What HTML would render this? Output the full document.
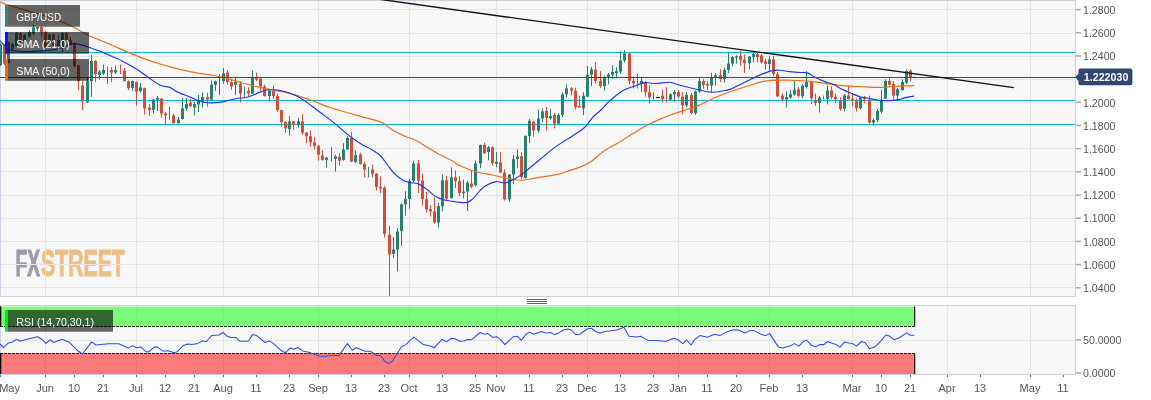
<!DOCTYPE html>
<html lang="en"><head><meta charset="utf-8"><title>GBP/USD chart</title>
<style>html,body{margin:0;padding:0;background:#fff;}body{width:1151px;height:400px;overflow:hidden;position:relative;}svg{display:block;}text{font-family:"Liberation Sans",sans-serif;}.ax{font-size:11px;fill:#555;}.lg{font-size:11px;fill:#fff;}</style></head><body>
<svg width="1151" height="400" viewBox="0 0 1151 400">
<rect width="1151" height="400" fill="#fff"/>
<rect x="0.5" y="0.5" width="1075" height="296" fill="#f7f7f7" stroke="#ccd2e6" stroke-width="1"/>
<rect x="0.5" y="305.5" width="1075" height="69" fill="#f7f7f7" stroke="#ccd2e6" stroke-width="1"/>
</svg>
<svg width="1151" height="400" viewBox="0 0 1151 400" style="position:absolute;left:0;top:0;will-change:transform;">
<g transform="translate(15.5,276.3) scale(0.562,1)" font-weight="bold" font-size="37.8" style="font-family:'Liberation Sans',sans-serif"><text x="0" y="0" fill="#9a9ca9" stroke="#9a9ca9" stroke-width="1.2" textLength="43.5" lengthAdjust="spacingAndGlyphs">FX</text><text x="45.4" y="0" fill="#eebf84" stroke="#eebf84" stroke-width="1.2">STREET</text></g>
</svg>
<svg width="1151" height="400" viewBox="0 0 1151 400" style="position:absolute;left:0;top:0;">
<defs><clipPath id="cm"><rect x="0" y="0" width="1076" height="297"/></clipPath><clipPath id="cr"><rect x="0" y="306" width="1076" height="68"/></clipPath></defs>
<line x1="1" x2="1075" y1="9.5" y2="9.5" stroke="#e5e5e5" stroke-width="1"/>
<line x1="1" x2="1075" y1="33.5" y2="33.5" stroke="#e5e5e5" stroke-width="1"/>
<line x1="1" x2="1075" y1="56.5" y2="56.5" stroke="#e5e5e5" stroke-width="1"/>
<line x1="1" x2="1075" y1="79.5" y2="79.5" stroke="#e5e5e5" stroke-width="1"/>
<line x1="1" x2="1075" y1="102.5" y2="102.5" stroke="#e5e5e5" stroke-width="1"/>
<line x1="1" x2="1075" y1="125.5" y2="125.5" stroke="#e5e5e5" stroke-width="1"/>
<line x1="1" x2="1075" y1="148.5" y2="148.5" stroke="#e5e5e5" stroke-width="1"/>
<line x1="1" x2="1075" y1="171.5" y2="171.5" stroke="#e5e5e5" stroke-width="1"/>
<line x1="1" x2="1075" y1="195.5" y2="195.5" stroke="#e5e5e5" stroke-width="1"/>
<line x1="1" x2="1075" y1="218.5" y2="218.5" stroke="#e5e5e5" stroke-width="1"/>
<line x1="1" x2="1075" y1="241.5" y2="241.5" stroke="#e5e5e5" stroke-width="1"/>
<line x1="1" x2="1075" y1="264.5" y2="264.5" stroke="#e5e5e5" stroke-width="1"/>
<line x1="1" x2="1075" y1="287.5" y2="287.5" stroke="#e5e5e5" stroke-width="1"/>
<line x1="45.5" x2="45.5" y1="1" y2="296" stroke="#e5e5e5" stroke-width="1"/>
<line x1="45.5" x2="45.5" y1="306" y2="374" stroke="#e5e5e5" stroke-width="1"/>
<line x1="136.5" x2="136.5" y1="1" y2="296" stroke="#e5e5e5" stroke-width="1"/>
<line x1="136.5" x2="136.5" y1="306" y2="374" stroke="#e5e5e5" stroke-width="1"/>
<line x1="223.5" x2="223.5" y1="1" y2="296" stroke="#e5e5e5" stroke-width="1"/>
<line x1="223.5" x2="223.5" y1="306" y2="374" stroke="#e5e5e5" stroke-width="1"/>
<line x1="318.5" x2="318.5" y1="1" y2="296" stroke="#e5e5e5" stroke-width="1"/>
<line x1="318.5" x2="318.5" y1="306" y2="374" stroke="#e5e5e5" stroke-width="1"/>
<line x1="409.5" x2="409.5" y1="1" y2="296" stroke="#e5e5e5" stroke-width="1"/>
<line x1="409.5" x2="409.5" y1="306" y2="374" stroke="#e5e5e5" stroke-width="1"/>
<line x1="496.5" x2="496.5" y1="1" y2="296" stroke="#e5e5e5" stroke-width="1"/>
<line x1="496.5" x2="496.5" y1="306" y2="374" stroke="#e5e5e5" stroke-width="1"/>
<line x1="587.5" x2="587.5" y1="1" y2="296" stroke="#e5e5e5" stroke-width="1"/>
<line x1="587.5" x2="587.5" y1="306" y2="374" stroke="#e5e5e5" stroke-width="1"/>
<line x1="678.5" x2="678.5" y1="1" y2="296" stroke="#e5e5e5" stroke-width="1"/>
<line x1="678.5" x2="678.5" y1="306" y2="374" stroke="#e5e5e5" stroke-width="1"/>
<line x1="769.5" x2="769.5" y1="1" y2="296" stroke="#e5e5e5" stroke-width="1"/>
<line x1="769.5" x2="769.5" y1="306" y2="374" stroke="#e5e5e5" stroke-width="1"/>
<line x1="852.5" x2="852.5" y1="1" y2="296" stroke="#e5e5e5" stroke-width="1"/>
<line x1="852.5" x2="852.5" y1="306" y2="374" stroke="#e5e5e5" stroke-width="1"/>
<line x1="947.5" x2="947.5" y1="1" y2="296" stroke="#e5e5e5" stroke-width="1"/>
<line x1="947.5" x2="947.5" y1="306" y2="374" stroke="#e5e5e5" stroke-width="1"/>
<line x1="1030.5" x2="1030.5" y1="1" y2="296" stroke="#e5e5e5" stroke-width="1"/>
<line x1="1030.5" x2="1030.5" y1="306" y2="374" stroke="#e5e5e5" stroke-width="1"/>
<line x1="1" x2="1075" y1="340.5" y2="340.5" stroke="#e5e5e5" stroke-width="1"/>
<g clip-path="url(#cm)">
<line x1="0" x2="1075" y1="52.5" y2="52.5" stroke="#0ab8d2" stroke-width="1"/>
<line x1="0" x2="1075" y1="100.5" y2="100.5" stroke="#0ab8d2" stroke-width="1"/>
<line x1="0" x2="1075" y1="124.5" y2="124.5" stroke="#0ab8d2" stroke-width="1"/>
<line x1="0.50" x2="0.50" y1="43.0" y2="66.0" stroke="#28806e" stroke-width="1"/>
<rect x="-1.00" y="44.4" width="3" height="20.6" fill="#28806e"/>
<line x1="4.50" x2="4.50" y1="44.5" y2="65.0" stroke="#cf4f3b" stroke-width="1"/>
<rect x="3.00" y="45.2" width="3" height="18.4" fill="#cf4f3b"/>
<line x1="8.50" x2="8.50" y1="41.5" y2="63.5" stroke="#28806e" stroke-width="1"/>
<rect x="7.00" y="42.0" width="3" height="21.0" fill="#28806e"/>
<line x1="12.50" x2="12.50" y1="43.0" y2="50.0" stroke="#28806e" stroke-width="1"/>
<rect x="11.00" y="44.0" width="3" height="5.0" fill="#28806e"/>
<line x1="16.50" x2="16.50" y1="32.0" y2="46.8" stroke="#28806e" stroke-width="1"/>
<rect x="15.00" y="32.7" width="3" height="13.5" fill="#28806e"/>
<line x1="20.50" x2="20.50" y1="32.3" y2="43.0" stroke="#cf4f3b" stroke-width="1"/>
<rect x="19.00" y="33.0" width="3" height="9.0" fill="#cf4f3b"/>
<line x1="24.50" x2="24.50" y1="34.0" y2="43.0" stroke="#28806e" stroke-width="1"/>
<rect x="23.00" y="35.0" width="3" height="6.0" fill="#28806e"/>
<line x1="29.50" x2="29.50" y1="30.5" y2="38.0" stroke="#28806e" stroke-width="1"/>
<rect x="28.00" y="32.0" width="3" height="4.6" fill="#28806e"/>
<line x1="33.50" x2="33.50" y1="25.0" y2="35.7" stroke="#28806e" stroke-width="1"/>
<rect x="32.00" y="27.4" width="3" height="6.2" fill="#28806e"/>
<line x1="37.50" x2="37.50" y1="26.5" y2="31.4" stroke="#28806e" stroke-width="1"/>
<rect x="36.00" y="27.0" width="3" height="1.7" fill="#28806e"/>
<line x1="41.50" x2="41.50" y1="26.5" y2="37.5" stroke="#cf4f3b" stroke-width="1"/>
<rect x="40.00" y="27.0" width="3" height="5.2" fill="#cf4f3b"/>
<line x1="45.50" x2="45.50" y1="31.0" y2="47.0" stroke="#cf4f3b" stroke-width="1"/>
<rect x="44.00" y="32.2" width="3" height="14.0" fill="#cf4f3b"/>
<line x1="49.50" x2="49.50" y1="34.0" y2="43.0" stroke="#28806e" stroke-width="1"/>
<rect x="48.00" y="34.4" width="3" height="7.5" fill="#28806e"/>
<line x1="53.50" x2="53.50" y1="33.5" y2="46.0" stroke="#cf4f3b" stroke-width="1"/>
<rect x="52.00" y="34.4" width="3" height="11.0" fill="#cf4f3b"/>
<line x1="58.50" x2="58.50" y1="35.0" y2="47.0" stroke="#28806e" stroke-width="1"/>
<rect x="57.00" y="40.0" width="3" height="6.0" fill="#28806e"/>
<line x1="62.50" x2="62.50" y1="32.0" y2="52.0" stroke="#28806e" stroke-width="1"/>
<rect x="61.00" y="33.0" width="3" height="14.0" fill="#28806e"/>
<line x1="66.50" x2="66.50" y1="32.0" y2="41.0" stroke="#cf4f3b" stroke-width="1"/>
<rect x="65.00" y="33.0" width="3" height="7.0" fill="#cf4f3b"/>
<line x1="70.50" x2="70.50" y1="37.0" y2="45.0" stroke="#cf4f3b" stroke-width="1"/>
<rect x="69.00" y="40.0" width="3" height="4.5" fill="#cf4f3b"/>
<line x1="74.50" x2="74.50" y1="42.3" y2="67.5" stroke="#cf4f3b" stroke-width="1"/>
<rect x="73.00" y="44.0" width="3" height="22.2" fill="#cf4f3b"/>
<line x1="78.50" x2="78.50" y1="65.0" y2="90.0" stroke="#cf4f3b" stroke-width="1"/>
<rect x="77.00" y="65.5" width="3" height="15.7" fill="#cf4f3b"/>
<line x1="82.50" x2="82.50" y1="81.0" y2="110.0" stroke="#cf4f3b" stroke-width="1"/>
<rect x="81.00" y="85.6" width="3" height="15.8" fill="#cf4f3b"/>
<line x1="87.50" x2="87.50" y1="77.7" y2="103.0" stroke="#28806e" stroke-width="1"/>
<rect x="86.00" y="81.2" width="3" height="21.0" fill="#28806e"/>
<line x1="91.50" x2="91.50" y1="55.0" y2="97.0" stroke="#28806e" stroke-width="1"/>
<rect x="90.00" y="61.0" width="3" height="20.2" fill="#28806e"/>
<line x1="95.50" x2="95.50" y1="60.0" y2="82.0" stroke="#cf4f3b" stroke-width="1"/>
<rect x="94.00" y="61.0" width="3" height="13.2" fill="#cf4f3b"/>
<line x1="99.50" x2="99.50" y1="70.0" y2="79.5" stroke="#28806e" stroke-width="1"/>
<rect x="98.00" y="71.6" width="3" height="3.4" fill="#28806e"/>
<line x1="103.50" x2="103.50" y1="64.6" y2="75.0" stroke="#28806e" stroke-width="1"/>
<rect x="102.00" y="70.0" width="3" height="3.4" fill="#28806e"/>
<line x1="107.50" x2="107.50" y1="66.4" y2="84.0" stroke="#cf4f3b" stroke-width="1"/>
<line x1="111.50" x2="111.50" y1="67.0" y2="82.0" stroke="#cf4f3b" stroke-width="1"/>
<rect x="110.00" y="70.0" width="3" height="2.5" fill="#cf4f3b"/>
<line x1="115.50" x2="115.50" y1="65.5" y2="74.0" stroke="#28806e" stroke-width="1"/>
<rect x="114.00" y="70.0" width="3" height="2.5" fill="#28806e"/>
<line x1="120.50" x2="120.50" y1="64.6" y2="74.0" stroke="#cf4f3b" stroke-width="1"/>
<line x1="124.50" x2="124.50" y1="68.0" y2="81.5" stroke="#cf4f3b" stroke-width="1"/>
<rect x="123.00" y="70.7" width="3" height="10.5" fill="#cf4f3b"/>
<line x1="128.50" x2="128.50" y1="80.5" y2="90.0" stroke="#cf4f3b" stroke-width="1"/>
<rect x="127.00" y="81.2" width="3" height="7.0" fill="#cf4f3b"/>
<line x1="132.50" x2="132.50" y1="80.4" y2="91.0" stroke="#28806e" stroke-width="1"/>
<rect x="131.00" y="81.0" width="3" height="7.0" fill="#28806e"/>
<line x1="136.50" x2="136.50" y1="81.5" y2="105.7" stroke="#cf4f3b" stroke-width="1"/>
<rect x="135.00" y="82.0" width="3" height="9.7" fill="#cf4f3b"/>
<line x1="140.50" x2="140.50" y1="83.0" y2="92.6" stroke="#28806e" stroke-width="1"/>
<rect x="139.00" y="87.4" width="3" height="3.6" fill="#28806e"/>
<line x1="144.50" x2="144.50" y1="87.5" y2="114.5" stroke="#cf4f3b" stroke-width="1"/>
<rect x="143.00" y="88.2" width="3" height="20.2" fill="#cf4f3b"/>
<line x1="149.50" x2="149.50" y1="104.0" y2="116.0" stroke="#cf4f3b" stroke-width="1"/>
<rect x="148.00" y="107.5" width="3" height="2.5" fill="#cf4f3b"/>
<line x1="153.50" x2="153.50" y1="99.0" y2="113.6" stroke="#28806e" stroke-width="1"/>
<rect x="152.00" y="99.6" width="3" height="10.4" fill="#28806e"/>
<line x1="157.50" x2="157.50" y1="96.0" y2="111.0" stroke="#28806e" stroke-width="1"/>
<rect x="156.00" y="98.0" width="3" height="1.6" fill="#28806e"/>
<line x1="161.50" x2="161.50" y1="98.0" y2="118.0" stroke="#cf4f3b" stroke-width="1"/>
<rect x="160.00" y="98.7" width="3" height="14.9" fill="#cf4f3b"/>
<line x1="165.50" x2="165.50" y1="112.0" y2="124.0" stroke="#cf4f3b" stroke-width="1"/>
<rect x="164.00" y="113.6" width="3" height="1.8" fill="#cf4f3b"/>
<line x1="169.50" x2="169.50" y1="106.6" y2="119.7" stroke="#28806e" stroke-width="1"/>
<line x1="173.50" x2="173.50" y1="113.6" y2="123.5" stroke="#cf4f3b" stroke-width="1"/>
<rect x="172.00" y="115.4" width="3" height="7.8" fill="#cf4f3b"/>
<line x1="178.50" x2="178.50" y1="117.0" y2="123.5" stroke="#28806e" stroke-width="1"/>
<rect x="177.00" y="119.7" width="3" height="3.5" fill="#28806e"/>
<line x1="182.50" x2="182.50" y1="98.0" y2="119.7" stroke="#28806e" stroke-width="1"/>
<rect x="181.00" y="108.4" width="3" height="10.6" fill="#28806e"/>
<line x1="186.50" x2="186.50" y1="98.0" y2="111.0" stroke="#28806e" stroke-width="1"/>
<rect x="185.00" y="104.0" width="3" height="4.4" fill="#28806e"/>
<line x1="190.50" x2="190.50" y1="98.7" y2="107.5" stroke="#cf4f3b" stroke-width="1"/>
<rect x="189.00" y="102.6" width="3" height="3.4" fill="#cf4f3b"/>
<line x1="194.50" x2="194.50" y1="102.0" y2="115.4" stroke="#28806e" stroke-width="1"/>
<rect x="193.00" y="104.0" width="3" height="3.5" fill="#28806e"/>
<line x1="198.50" x2="198.50" y1="95.0" y2="112.0" stroke="#28806e" stroke-width="1"/>
<rect x="197.00" y="100.0" width="3" height="4.5" fill="#28806e"/>
<line x1="202.50" x2="202.50" y1="92.6" y2="107.5" stroke="#28806e" stroke-width="1"/>
<rect x="201.00" y="97.0" width="3" height="5.2" fill="#28806e"/>
<line x1="207.50" x2="207.50" y1="92.6" y2="106.6" stroke="#cf4f3b" stroke-width="1"/>
<rect x="206.00" y="97.0" width="3" height="2.6" fill="#cf4f3b"/>
<line x1="211.50" x2="211.50" y1="80.4" y2="100.0" stroke="#28806e" stroke-width="1"/>
<rect x="210.00" y="84.7" width="3" height="14.9" fill="#28806e"/>
<line x1="215.50" x2="215.50" y1="80.4" y2="90.9" stroke="#28806e" stroke-width="1"/>
<rect x="214.00" y="81.2" width="3" height="3.5" fill="#28806e"/>
<line x1="219.50" x2="219.50" y1="74.2" y2="95.2" stroke="#28806e" stroke-width="1"/>
<line x1="223.50" x2="223.50" y1="68.0" y2="83.9" stroke="#28806e" stroke-width="1"/>
<rect x="222.00" y="73.4" width="3" height="7.8" fill="#28806e"/>
<line x1="227.50" x2="227.50" y1="70.0" y2="84.7" stroke="#cf4f3b" stroke-width="1"/>
<rect x="226.00" y="72.5" width="3" height="9.5" fill="#cf4f3b"/>
<line x1="231.50" x2="231.50" y1="78.6" y2="90.0" stroke="#cf4f3b" stroke-width="1"/>
<rect x="230.00" y="82.0" width="3" height="4.5" fill="#cf4f3b"/>
<line x1="235.50" x2="235.50" y1="77.7" y2="95.2" stroke="#28806e" stroke-width="1"/>
<rect x="234.00" y="82.0" width="3" height="2.7" fill="#28806e"/>
<line x1="240.50" x2="240.50" y1="81.2" y2="102.2" stroke="#cf4f3b" stroke-width="1"/>
<rect x="239.00" y="83.9" width="3" height="9.6" fill="#cf4f3b"/>
<line x1="244.50" x2="244.50" y1="86.5" y2="97.0" stroke="#28806e" stroke-width="1"/>
<line x1="248.50" x2="248.50" y1="87.4" y2="96.0" stroke="#cf4f3b" stroke-width="1"/>
<rect x="247.00" y="91.0" width="3" height="2.5" fill="#cf4f3b"/>
<line x1="252.50" x2="252.50" y1="70.4" y2="94.0" stroke="#28806e" stroke-width="1"/>
<rect x="251.00" y="76.9" width="3" height="16.6" fill="#28806e"/>
<line x1="256.50" x2="256.50" y1="72.5" y2="81.2" stroke="#cf4f3b" stroke-width="1"/>
<rect x="255.00" y="76.9" width="3" height="2.6" fill="#cf4f3b"/>
<line x1="260.50" x2="260.50" y1="78.0" y2="90.9" stroke="#cf4f3b" stroke-width="1"/>
<rect x="259.00" y="78.6" width="3" height="7.9" fill="#cf4f3b"/>
<line x1="264.50" x2="264.50" y1="84.7" y2="96.5" stroke="#cf4f3b" stroke-width="1"/>
<rect x="263.00" y="86.5" width="3" height="9.6" fill="#cf4f3b"/>
<line x1="269.50" x2="269.50" y1="89.0" y2="101.4" stroke="#28806e" stroke-width="1"/>
<rect x="268.00" y="90.9" width="3" height="5.2" fill="#28806e"/>
<line x1="273.50" x2="273.50" y1="85.6" y2="98.7" stroke="#cf4f3b" stroke-width="1"/>
<rect x="272.00" y="90.9" width="3" height="5.2" fill="#cf4f3b"/>
<line x1="277.50" x2="277.50" y1="93.5" y2="111.9" stroke="#cf4f3b" stroke-width="1"/>
<rect x="276.00" y="96.1" width="3" height="14.0" fill="#cf4f3b"/>
<line x1="281.50" x2="281.50" y1="109.5" y2="126.6" stroke="#cf4f3b" stroke-width="1"/>
<rect x="280.00" y="110.1" width="3" height="12.1" fill="#cf4f3b"/>
<line x1="285.50" x2="285.50" y1="121.5" y2="132.7" stroke="#cf4f3b" stroke-width="1"/>
<rect x="284.00" y="122.2" width="3" height="6.2" fill="#cf4f3b"/>
<line x1="289.50" x2="289.50" y1="116.1" y2="135.4" stroke="#28806e" stroke-width="1"/>
<rect x="288.00" y="121.4" width="3" height="7.8" fill="#28806e"/>
<line x1="293.50" x2="293.50" y1="121.0" y2="130.1" stroke="#cf4f3b" stroke-width="1"/>
<rect x="292.00" y="121.4" width="3" height="3.5" fill="#cf4f3b"/>
<line x1="298.50" x2="298.50" y1="117.9" y2="127.5" stroke="#28806e" stroke-width="1"/>
<rect x="297.00" y="121.4" width="3" height="3.5" fill="#28806e"/>
<line x1="302.50" x2="302.50" y1="114.4" y2="135.0" stroke="#cf4f3b" stroke-width="1"/>
<rect x="301.00" y="121.4" width="3" height="11.3" fill="#cf4f3b"/>
<line x1="306.50" x2="306.50" y1="132.0" y2="143.2" stroke="#cf4f3b" stroke-width="1"/>
<rect x="305.00" y="132.7" width="3" height="3.5" fill="#cf4f3b"/>
<line x1="310.50" x2="310.50" y1="130.6" y2="146.7" stroke="#cf4f3b" stroke-width="1"/>
<rect x="309.00" y="136.2" width="3" height="6.2" fill="#cf4f3b"/>
<line x1="314.50" x2="314.50" y1="137.1" y2="149.4" stroke="#cf4f3b" stroke-width="1"/>
<rect x="313.00" y="142.4" width="3" height="3.5" fill="#cf4f3b"/>
<line x1="318.50" x2="318.50" y1="145.0" y2="160.7" stroke="#cf4f3b" stroke-width="1"/>
<rect x="317.00" y="145.9" width="3" height="8.7" fill="#cf4f3b"/>
<line x1="322.50" x2="322.50" y1="150.2" y2="160.7" stroke="#cf4f3b" stroke-width="1"/>
<rect x="321.00" y="155.5" width="3" height="4.4" fill="#cf4f3b"/>
<line x1="326.50" x2="326.50" y1="157.0" y2="167.7" stroke="#28806e" stroke-width="1"/>
<rect x="325.00" y="157.6" width="3" height="2.3" fill="#28806e"/>
<line x1="331.50" x2="331.50" y1="147.1" y2="161.6" stroke="#28806e" stroke-width="1"/>
<line x1="335.50" x2="335.50" y1="154.6" y2="171.6" stroke="#28806e" stroke-width="1"/>
<rect x="334.00" y="156.4" width="3" height="2.6" fill="#28806e"/>
<line x1="339.50" x2="339.50" y1="152.9" y2="165.6" stroke="#cf4f3b" stroke-width="1"/>
<rect x="338.00" y="156.9" width="3" height="3.8" fill="#cf4f3b"/>
<line x1="343.50" x2="343.50" y1="143.2" y2="160.7" stroke="#28806e" stroke-width="1"/>
<rect x="342.00" y="149.4" width="3" height="10.5" fill="#28806e"/>
<line x1="347.50" x2="347.50" y1="135.9" y2="150.0" stroke="#28806e" stroke-width="1"/>
<rect x="346.00" y="138.0" width="3" height="11.4" fill="#28806e"/>
<line x1="351.50" x2="351.50" y1="131.9" y2="162.0" stroke="#cf4f3b" stroke-width="1"/>
<rect x="350.00" y="138.0" width="3" height="23.6" fill="#cf4f3b"/>
<line x1="355.50" x2="355.50" y1="150.2" y2="162.8" stroke="#28806e" stroke-width="1"/>
<rect x="354.00" y="155.1" width="3" height="7.0" fill="#28806e"/>
<line x1="360.50" x2="360.50" y1="152.9" y2="164.6" stroke="#cf4f3b" stroke-width="1"/>
<rect x="359.00" y="154.6" width="3" height="9.3" fill="#cf4f3b"/>
<line x1="364.50" x2="364.50" y1="161.6" y2="177.3" stroke="#cf4f3b" stroke-width="1"/>
<rect x="363.00" y="163.9" width="3" height="5.6" fill="#cf4f3b"/>
<line x1="368.50" x2="368.50" y1="166.9" y2="177.3" stroke="#28806e" stroke-width="1"/>
<line x1="372.50" x2="372.50" y1="164.6" y2="177.6" stroke="#cf4f3b" stroke-width="1"/>
<rect x="371.00" y="169.5" width="3" height="4.3" fill="#cf4f3b"/>
<line x1="376.50" x2="376.50" y1="173.0" y2="190.4" stroke="#cf4f3b" stroke-width="1"/>
<rect x="375.00" y="173.8" width="3" height="13.1" fill="#cf4f3b"/>
<line x1="380.50" x2="380.50" y1="176.4" y2="193.0" stroke="#cf4f3b" stroke-width="1"/>
<rect x="379.00" y="186.9" width="3" height="1.7" fill="#cf4f3b"/>
<line x1="384.50" x2="384.50" y1="186.0" y2="237.6" stroke="#cf4f3b" stroke-width="1"/>
<rect x="383.00" y="187.7" width="3" height="46.0" fill="#cf4f3b"/>
<line x1="389.50" x2="389.50" y1="225.9" y2="296.0" stroke="#cf4f3b" stroke-width="1"/>
<rect x="388.00" y="234.6" width="3" height="19.8" fill="#cf4f3b"/>
<line x1="393.50" x2="393.50" y1="237.2" y2="258.2" stroke="#28806e" stroke-width="1"/>
<rect x="392.00" y="249.5" width="3" height="4.4" fill="#28806e"/>
<line x1="397.50" x2="397.50" y1="228.1" y2="271.4" stroke="#28806e" stroke-width="1"/>
<rect x="396.00" y="231.6" width="3" height="17.9" fill="#28806e"/>
<line x1="401.50" x2="401.50" y1="203.5" y2="246.0" stroke="#28806e" stroke-width="1"/>
<rect x="400.00" y="204.4" width="3" height="26.7" fill="#28806e"/>
<line x1="405.50" x2="405.50" y1="191.2" y2="215.7" stroke="#28806e" stroke-width="1"/>
<rect x="404.00" y="199.1" width="3" height="5.3" fill="#28806e"/>
<line x1="409.50" x2="409.50" y1="179.0" y2="208.7" stroke="#28806e" stroke-width="1"/>
<rect x="408.00" y="180.7" width="3" height="18.4" fill="#28806e"/>
<line x1="413.50" x2="413.50" y1="160.7" y2="182.5" stroke="#28806e" stroke-width="1"/>
<rect x="412.00" y="163.4" width="3" height="17.3" fill="#28806e"/>
<line x1="418.50" x2="418.50" y1="159.9" y2="193.0" stroke="#cf4f3b" stroke-width="1"/>
<rect x="417.00" y="163.4" width="3" height="17.3" fill="#cf4f3b"/>
<line x1="422.50" x2="422.50" y1="173.7" y2="205.6" stroke="#cf4f3b" stroke-width="1"/>
<rect x="421.00" y="180.4" width="3" height="18.7" fill="#cf4f3b"/>
<line x1="426.50" x2="426.50" y1="192.1" y2="212.6" stroke="#cf4f3b" stroke-width="1"/>
<rect x="425.00" y="199.1" width="3" height="10.5" fill="#cf4f3b"/>
<line x1="430.50" x2="430.50" y1="205.2" y2="216.6" stroke="#cf4f3b" stroke-width="1"/>
<rect x="429.00" y="209.1" width="3" height="2.3" fill="#cf4f3b"/>
<line x1="434.50" x2="434.50" y1="197.4" y2="223.6" stroke="#cf4f3b" stroke-width="1"/>
<rect x="433.00" y="211.4" width="3" height="11.0" fill="#cf4f3b"/>
<line x1="438.50" x2="438.50" y1="202.6" y2="227.6" stroke="#28806e" stroke-width="1"/>
<rect x="437.00" y="206.1" width="3" height="16.3" fill="#28806e"/>
<line x1="442.50" x2="442.50" y1="174.6" y2="211.4" stroke="#28806e" stroke-width="1"/>
<rect x="441.00" y="180.3" width="3" height="26.0" fill="#28806e"/>
<line x1="446.50" x2="446.50" y1="175.7" y2="200.0" stroke="#cf4f3b" stroke-width="1"/>
<rect x="445.00" y="180.3" width="3" height="18.5" fill="#cf4f3b"/>
<line x1="451.50" x2="451.50" y1="167.3" y2="198.5" stroke="#28806e" stroke-width="1"/>
<rect x="450.00" y="177.4" width="3" height="20.7" fill="#28806e"/>
<line x1="455.50" x2="455.50" y1="170.4" y2="187.9" stroke="#cf4f3b" stroke-width="1"/>
<rect x="454.00" y="177.4" width="3" height="3.7" fill="#cf4f3b"/>
<line x1="459.50" x2="459.50" y1="176.4" y2="196.4" stroke="#cf4f3b" stroke-width="1"/>
<rect x="458.00" y="181.1" width="3" height="11.8" fill="#cf4f3b"/>
<line x1="463.50" x2="463.50" y1="179.5" y2="198.3" stroke="#28806e" stroke-width="1"/>
<rect x="462.00" y="191.6" width="3" height="1.6" fill="#28806e"/>
<line x1="467.50" x2="467.50" y1="181.3" y2="211.0" stroke="#28806e" stroke-width="1"/>
<rect x="466.00" y="182.7" width="3" height="8.9" fill="#28806e"/>
<line x1="471.50" x2="471.50" y1="170.0" y2="188.3" stroke="#cf4f3b" stroke-width="1"/>
<rect x="470.00" y="183.6" width="3" height="3.3" fill="#cf4f3b"/>
<line x1="475.50" x2="475.50" y1="160.5" y2="186.4" stroke="#28806e" stroke-width="1"/>
<rect x="474.00" y="163.5" width="3" height="21.6" fill="#28806e"/>
<line x1="480.50" x2="480.50" y1="144.5" y2="168.3" stroke="#28806e" stroke-width="1"/>
<rect x="479.00" y="145.0" width="3" height="18.5" fill="#28806e"/>
<line x1="484.50" x2="484.50" y1="143.0" y2="154.0" stroke="#cf4f3b" stroke-width="1"/>
<rect x="483.00" y="145.0" width="3" height="8.4" fill="#cf4f3b"/>
<line x1="488.50" x2="488.50" y1="146.0" y2="160.4" stroke="#28806e" stroke-width="1"/>
<rect x="487.00" y="147.2" width="3" height="4.8" fill="#28806e"/>
<line x1="492.50" x2="492.50" y1="146.5" y2="165.5" stroke="#cf4f3b" stroke-width="1"/>
<rect x="491.00" y="147.2" width="3" height="16.0" fill="#cf4f3b"/>
<line x1="496.50" x2="496.50" y1="152.1" y2="167.4" stroke="#28806e" stroke-width="1"/>
<rect x="495.00" y="161.8" width="3" height="2.1" fill="#28806e"/>
<line x1="500.50" x2="500.50" y1="152.1" y2="173.1" stroke="#cf4f3b" stroke-width="1"/>
<rect x="499.00" y="162.4" width="3" height="10.1" fill="#cf4f3b"/>
<line x1="504.50" x2="504.50" y1="169.4" y2="200.6" stroke="#cf4f3b" stroke-width="1"/>
<rect x="503.00" y="172.5" width="3" height="26.8" fill="#cf4f3b"/>
<line x1="509.50" x2="509.50" y1="174.0" y2="201.6" stroke="#28806e" stroke-width="1"/>
<rect x="508.00" y="174.6" width="3" height="24.7" fill="#28806e"/>
<line x1="513.50" x2="513.50" y1="155.2" y2="184.4" stroke="#28806e" stroke-width="1"/>
<rect x="512.00" y="159.1" width="3" height="15.5" fill="#28806e"/>
<line x1="517.50" x2="517.50" y1="149.5" y2="168.3" stroke="#28806e" stroke-width="1"/>
<rect x="516.00" y="156.5" width="3" height="2.6" fill="#28806e"/>
<line x1="521.50" x2="521.50" y1="152.3" y2="178.8" stroke="#cf4f3b" stroke-width="1"/>
<rect x="520.00" y="156.2" width="3" height="20.8" fill="#cf4f3b"/>
<line x1="525.50" x2="525.50" y1="135.5" y2="178.5" stroke="#28806e" stroke-width="1"/>
<rect x="524.00" y="135.9" width="3" height="42.2" fill="#28806e"/>
<line x1="529.50" x2="529.50" y1="119.1" y2="143.2" stroke="#28806e" stroke-width="1"/>
<rect x="528.00" y="120.8" width="3" height="15.1" fill="#28806e"/>
<line x1="533.50" x2="533.50" y1="120.8" y2="136.6" stroke="#cf4f3b" stroke-width="1"/>
<rect x="532.00" y="121.9" width="3" height="8.7" fill="#cf4f3b"/>
<line x1="538.50" x2="538.50" y1="109.5" y2="132.7" stroke="#28806e" stroke-width="1"/>
<rect x="537.00" y="118.4" width="3" height="12.2" fill="#28806e"/>
<line x1="542.50" x2="542.50" y1="108.5" y2="122.2" stroke="#28806e" stroke-width="1"/>
<rect x="541.00" y="111.4" width="3" height="7.0" fill="#28806e"/>
<line x1="546.50" x2="546.50" y1="107.1" y2="130.6" stroke="#cf4f3b" stroke-width="1"/>
<rect x="545.00" y="111.0" width="3" height="6.9" fill="#cf4f3b"/>
<line x1="550.50" x2="550.50" y1="108.9" y2="119.6" stroke="#28806e" stroke-width="1"/>
<rect x="549.00" y="116.1" width="3" height="2.3" fill="#28806e"/>
<line x1="554.50" x2="554.50" y1="113.1" y2="128.4" stroke="#cf4f3b" stroke-width="1"/>
<rect x="553.00" y="114.9" width="3" height="8.7" fill="#cf4f3b"/>
<line x1="558.50" x2="558.50" y1="113.1" y2="124.0" stroke="#28806e" stroke-width="1"/>
<rect x="557.00" y="114.9" width="3" height="8.7" fill="#28806e"/>
<line x1="562.50" x2="562.50" y1="92.2" y2="117.3" stroke="#28806e" stroke-width="1"/>
<rect x="561.00" y="94.3" width="3" height="20.6" fill="#28806e"/>
<line x1="566.50" x2="566.50" y1="84.4" y2="97.5" stroke="#28806e" stroke-width="1"/>
<rect x="565.00" y="88.4" width="3" height="5.9" fill="#28806e"/>
<line x1="571.50" x2="571.50" y1="87.0" y2="95.7" stroke="#cf4f3b" stroke-width="1"/>
<rect x="570.00" y="88.4" width="3" height="2.4" fill="#cf4f3b"/>
<line x1="575.50" x2="575.50" y1="87.9" y2="109.7" stroke="#cf4f3b" stroke-width="1"/>
<rect x="574.00" y="90.8" width="3" height="16.3" fill="#cf4f3b"/>
<line x1="579.50" x2="579.50" y1="95.7" y2="108.0" stroke="#cf4f3b" stroke-width="1"/>
<rect x="578.00" y="106.0" width="3" height="1.2" fill="#cf4f3b"/>
<line x1="583.50" x2="583.50" y1="92.2" y2="115.0" stroke="#28806e" stroke-width="1"/>
<rect x="582.00" y="95.7" width="3" height="12.6" fill="#28806e"/>
<line x1="587.50" x2="587.50" y1="66.0" y2="97.0" stroke="#28806e" stroke-width="1"/>
<rect x="586.00" y="74.7" width="3" height="21.9" fill="#28806e"/>
<line x1="591.50" x2="591.50" y1="66.9" y2="86.1" stroke="#28806e" stroke-width="1"/>
<rect x="590.00" y="69.5" width="3" height="5.2" fill="#28806e"/>
<line x1="595.50" x2="595.50" y1="62.1" y2="83.5" stroke="#cf4f3b" stroke-width="1"/>
<rect x="594.00" y="69.5" width="3" height="11.4" fill="#cf4f3b"/>
<line x1="600.50" x2="600.50" y1="71.2" y2="87.9" stroke="#cf4f3b" stroke-width="1"/>
<rect x="599.00" y="80.9" width="3" height="5.2" fill="#cf4f3b"/>
<line x1="604.50" x2="604.50" y1="75.6" y2="90.5" stroke="#28806e" stroke-width="1"/>
<rect x="603.00" y="77.4" width="3" height="8.7" fill="#28806e"/>
<line x1="608.50" x2="608.50" y1="73.0" y2="84.4" stroke="#28806e" stroke-width="1"/>
<rect x="607.00" y="74.4" width="3" height="3.0" fill="#28806e"/>
<line x1="612.50" x2="612.50" y1="65.1" y2="79.1" stroke="#28806e" stroke-width="1"/>
<rect x="611.00" y="72.1" width="3" height="2.6" fill="#28806e"/>
<line x1="616.50" x2="616.50" y1="67.4" y2="78.2" stroke="#28806e" stroke-width="1"/>
<rect x="615.00" y="71.2" width="3" height="1.8" fill="#28806e"/>
<line x1="620.50" x2="620.50" y1="51.1" y2="73.9" stroke="#28806e" stroke-width="1"/>
<rect x="619.00" y="60.4" width="3" height="11.2" fill="#28806e"/>
<line x1="624.50" x2="624.50" y1="50.2" y2="62.5" stroke="#28806e" stroke-width="1"/>
<rect x="623.00" y="53.4" width="3" height="7.0" fill="#28806e"/>
<line x1="629.50" x2="629.50" y1="53.0" y2="84.4" stroke="#cf4f3b" stroke-width="1"/>
<rect x="628.00" y="53.4" width="3" height="27.5" fill="#cf4f3b"/>
<line x1="633.50" x2="633.50" y1="76.5" y2="88.4" stroke="#cf4f3b" stroke-width="1"/>
<rect x="632.00" y="80.9" width="3" height="2.6" fill="#cf4f3b"/>
<line x1="637.50" x2="637.50" y1="73.9" y2="88.4" stroke="#cf4f3b" stroke-width="1"/>
<line x1="641.50" x2="641.50" y1="76.5" y2="92.2" stroke="#28806e" stroke-width="1"/>
<rect x="640.00" y="80.9" width="3" height="2.6" fill="#28806e"/>
<line x1="645.50" x2="645.50" y1="80.9" y2="96.6" stroke="#cf4f3b" stroke-width="1"/>
<rect x="644.00" y="82.6" width="3" height="9.6" fill="#cf4f3b"/>
<line x1="649.50" x2="649.50" y1="85.2" y2="103.6" stroke="#cf4f3b" stroke-width="1"/>
<rect x="648.00" y="92.2" width="3" height="5.3" fill="#cf4f3b"/>
<line x1="653.50" x2="653.50" y1="92.2" y2="99.6" stroke="#28806e" stroke-width="1"/>
<rect x="656.0" y="97" width="4" height="1" fill="#111"/>
<line x1="662.50" x2="662.50" y1="89.6" y2="102.4" stroke="#cf4f3b" stroke-width="1"/>
<rect x="661.00" y="95.7" width="3" height="3.5" fill="#cf4f3b"/>
<line x1="666.50" x2="666.50" y1="87.3" y2="102.4" stroke="#cf4f3b" stroke-width="1"/>
<line x1="670.50" x2="670.50" y1="93.5" y2="100.6" stroke="#28806e" stroke-width="1"/>
<rect x="669.00" y="94.3" width="3" height="5.3" fill="#28806e"/>
<line x1="674.50" x2="674.50" y1="90.1" y2="101.9" stroke="#28806e" stroke-width="1"/>
<rect x="673.00" y="91.9" width="3" height="2.4" fill="#28806e"/>
<line x1="678.50" x2="678.50" y1="90.1" y2="98.4" stroke="#cf4f3b" stroke-width="1"/>
<rect x="677.00" y="91.9" width="3" height="4.7" fill="#cf4f3b"/>
<line x1="682.50" x2="682.50" y1="92.2" y2="114.1" stroke="#cf4f3b" stroke-width="1"/>
<rect x="681.00" y="96.6" width="3" height="8.8" fill="#cf4f3b"/>
<line x1="686.50" x2="686.50" y1="92.2" y2="107.1" stroke="#28806e" stroke-width="1"/>
<rect x="685.00" y="94.9" width="3" height="10.5" fill="#28806e"/>
<line x1="691.50" x2="691.50" y1="93.1" y2="114.1" stroke="#cf4f3b" stroke-width="1"/>
<rect x="690.00" y="94.9" width="3" height="18.3" fill="#cf4f3b"/>
<line x1="695.50" x2="695.50" y1="90.5" y2="115.0" stroke="#28806e" stroke-width="1"/>
<rect x="694.00" y="91.4" width="3" height="21.8" fill="#28806e"/>
<line x1="699.50" x2="699.50" y1="78.2" y2="92.6" stroke="#28806e" stroke-width="1"/>
<rect x="698.00" y="80.9" width="3" height="10.5" fill="#28806e"/>
<line x1="703.50" x2="703.50" y1="79.1" y2="88.7" stroke="#cf4f3b" stroke-width="1"/>
<rect x="702.00" y="80.9" width="3" height="4.0" fill="#cf4f3b"/>
<line x1="707.50" x2="707.50" y1="80.9" y2="90.1" stroke="#cf4f3b" stroke-width="1"/>
<rect x="706.00" y="83.8" width="3" height="1.8" fill="#cf4f3b"/>
<line x1="711.50" x2="711.50" y1="73.0" y2="92.2" stroke="#28806e" stroke-width="1"/>
<rect x="710.00" y="77.4" width="3" height="8.2" fill="#28806e"/>
<line x1="715.50" x2="715.50" y1="73.0" y2="85.6" stroke="#28806e" stroke-width="1"/>
<rect x="714.00" y="75.1" width="3" height="2.3" fill="#28806e"/>
<line x1="720.50" x2="720.50" y1="69.5" y2="82.1" stroke="#cf4f3b" stroke-width="1"/>
<rect x="719.00" y="75.1" width="3" height="4.0" fill="#cf4f3b"/>
<line x1="724.50" x2="724.50" y1="67.4" y2="82.6" stroke="#28806e" stroke-width="1"/>
<rect x="723.00" y="69.8" width="3" height="9.3" fill="#28806e"/>
<line x1="728.50" x2="728.50" y1="52.8" y2="73.1" stroke="#28806e" stroke-width="1"/>
<rect x="727.00" y="63.5" width="3" height="6.3" fill="#28806e"/>
<line x1="732.50" x2="732.50" y1="55.8" y2="66.5" stroke="#28806e" stroke-width="1"/>
<rect x="731.00" y="57.0" width="3" height="6.5" fill="#28806e"/>
<line x1="736.50" x2="736.50" y1="55.2" y2="63.5" stroke="#28806e" stroke-width="1"/>
<rect x="735.00" y="56.3" width="3" height="1.3" fill="#28806e"/>
<line x1="740.50" x2="740.50" y1="50.6" y2="65.9" stroke="#cf4f3b" stroke-width="1"/>
<rect x="739.00" y="56.2" width="3" height="3.5" fill="#cf4f3b"/>
<line x1="744.50" x2="744.50" y1="54.5" y2="72.9" stroke="#cf4f3b" stroke-width="1"/>
<rect x="743.00" y="59.7" width="3" height="3.5" fill="#cf4f3b"/>
<line x1="749.50" x2="749.50" y1="55.9" y2="69.4" stroke="#28806e" stroke-width="1"/>
<rect x="748.00" y="56.6" width="3" height="6.6" fill="#28806e"/>
<line x1="753.50" x2="753.50" y1="52.7" y2="62.4" stroke="#28806e" stroke-width="1"/>
<rect x="752.00" y="54.1" width="3" height="3.0" fill="#28806e"/>
<line x1="757.50" x2="757.50" y1="52.7" y2="62.4" stroke="#cf4f3b" stroke-width="1"/>
<rect x="756.00" y="54.1" width="3" height="3.0" fill="#cf4f3b"/>
<line x1="761.50" x2="761.50" y1="54.1" y2="63.6" stroke="#cf4f3b" stroke-width="1"/>
<rect x="760.00" y="55.4" width="3" height="7.0" fill="#cf4f3b"/>
<line x1="765.50" x2="765.50" y1="58.9" y2="69.4" stroke="#cf4f3b" stroke-width="1"/>
<rect x="764.00" y="61.5" width="3" height="2.6" fill="#cf4f3b"/>
<line x1="769.50" x2="769.50" y1="56.2" y2="71.1" stroke="#28806e" stroke-width="1"/>
<rect x="768.00" y="59.4" width="3" height="4.7" fill="#28806e"/>
<line x1="773.50" x2="773.50" y1="55.9" y2="76.4" stroke="#cf4f3b" stroke-width="1"/>
<rect x="772.00" y="59.4" width="3" height="14.7" fill="#cf4f3b"/>
<line x1="777.50" x2="777.50" y1="72.0" y2="97.0" stroke="#cf4f3b" stroke-width="1"/>
<rect x="776.00" y="74.1" width="3" height="22.3" fill="#cf4f3b"/>
<line x1="782.50" x2="782.50" y1="93.5" y2="101.6" stroke="#cf4f3b" stroke-width="1"/>
<rect x="781.00" y="95.6" width="3" height="3.9" fill="#cf4f3b"/>
<line x1="786.50" x2="786.50" y1="91.1" y2="107.4" stroke="#28806e" stroke-width="1"/>
<rect x="785.00" y="96.9" width="3" height="2.6" fill="#28806e"/>
<line x1="790.50" x2="790.50" y1="89.7" y2="98.6" stroke="#28806e" stroke-width="1"/>
<rect x="789.00" y="94.3" width="3" height="3.1" fill="#28806e"/>
<line x1="794.50" x2="794.50" y1="80.6" y2="95.6" stroke="#28806e" stroke-width="1"/>
<rect x="793.00" y="89.7" width="3" height="4.9" fill="#28806e"/>
<line x1="798.50" x2="798.50" y1="86.9" y2="97.4" stroke="#cf4f3b" stroke-width="1"/>
<rect x="797.00" y="89.5" width="3" height="6.3" fill="#cf4f3b"/>
<line x1="802.50" x2="802.50" y1="84.2" y2="98.4" stroke="#28806e" stroke-width="1"/>
<rect x="801.00" y="85.7" width="3" height="10.5" fill="#28806e"/>
<line x1="806.50" x2="806.50" y1="71.1" y2="88.6" stroke="#28806e" stroke-width="1"/>
<rect x="805.00" y="82.0" width="3" height="5.0" fill="#28806e"/>
<line x1="811.50" x2="811.50" y1="81.5" y2="103.9" stroke="#cf4f3b" stroke-width="1"/>
<rect x="810.00" y="82.0" width="3" height="16.4" fill="#cf4f3b"/>
<line x1="815.50" x2="815.50" y1="93.6" y2="106.1" stroke="#cf4f3b" stroke-width="1"/>
<rect x="814.00" y="100.4" width="3" height="2.6" fill="#cf4f3b"/>
<line x1="819.50" x2="819.50" y1="96.0" y2="112.6" stroke="#28806e" stroke-width="1"/>
<rect x="818.00" y="97.4" width="3" height="5.6" fill="#28806e"/>
<line x1="823.50" x2="823.50" y1="95.6" y2="99.5" stroke="#cf4f3b" stroke-width="1"/>
<line x1="827.50" x2="827.50" y1="85.7" y2="104.4" stroke="#28806e" stroke-width="1"/>
<rect x="826.00" y="90.4" width="3" height="8.4" fill="#28806e"/>
<line x1="831.50" x2="831.50" y1="86.2" y2="98.8" stroke="#cf4f3b" stroke-width="1"/>
<rect x="830.00" y="90.4" width="3" height="7.0" fill="#cf4f3b"/>
<line x1="835.50" x2="835.50" y1="93.6" y2="103.3" stroke="#cf4f3b" stroke-width="1"/>
<rect x="834.00" y="96.8" width="3" height="2.7" fill="#cf4f3b"/>
<line x1="840.50" x2="840.50" y1="97.4" y2="110.9" stroke="#cf4f3b" stroke-width="1"/>
<rect x="839.00" y="100.4" width="3" height="8.7" fill="#cf4f3b"/>
<line x1="844.50" x2="844.50" y1="93.9" y2="111.4" stroke="#28806e" stroke-width="1"/>
<rect x="843.00" y="95.4" width="3" height="13.2" fill="#28806e"/>
<line x1="848.50" x2="848.50" y1="85.7" y2="99.5" stroke="#cf4f3b" stroke-width="1"/>
<rect x="847.00" y="95.4" width="3" height="3.7" fill="#cf4f3b"/>
<line x1="852.50" x2="852.50" y1="93.5" y2="106.5" stroke="#cf4f3b" stroke-width="1"/>
<rect x="851.00" y="98.6" width="3" height="1.8" fill="#cf4f3b"/>
<line x1="856.50" x2="856.50" y1="98.6" y2="111.4" stroke="#cf4f3b" stroke-width="1"/>
<rect x="855.00" y="100.4" width="3" height="7.8" fill="#cf4f3b"/>
<line x1="860.50" x2="860.50" y1="97.0" y2="109.6" stroke="#28806e" stroke-width="1"/>
<rect x="859.00" y="97.4" width="3" height="10.8" fill="#28806e"/>
<line x1="864.50" x2="864.50" y1="96.0" y2="103.3" stroke="#cf4f3b" stroke-width="1"/>
<rect x="863.00" y="97.0" width="3" height="2.5" fill="#cf4f3b"/>
<line x1="869.50" x2="869.50" y1="95.6" y2="123.6" stroke="#cf4f3b" stroke-width="1"/>
<rect x="868.00" y="99.5" width="3" height="23.1" fill="#cf4f3b"/>
<line x1="873.50" x2="873.50" y1="118.4" y2="125.4" stroke="#28806e" stroke-width="1"/>
<rect x="872.00" y="120.1" width="3" height="2.5" fill="#28806e"/>
<line x1="877.50" x2="877.50" y1="109.1" y2="122.2" stroke="#28806e" stroke-width="1"/>
<rect x="876.00" y="110.9" width="3" height="9.2" fill="#28806e"/>
<line x1="881.50" x2="881.50" y1="89.7" y2="113.5" stroke="#28806e" stroke-width="1"/>
<rect x="880.00" y="100.4" width="3" height="11.3" fill="#28806e"/>
<line x1="885.50" x2="885.50" y1="79.4" y2="99.0" stroke="#28806e" stroke-width="1"/>
<rect x="884.00" y="80.9" width="3" height="17.7" fill="#28806e"/>
<line x1="889.50" x2="889.50" y1="78.3" y2="85.7" stroke="#cf4f3b" stroke-width="1"/>
<rect x="888.00" y="80.9" width="3" height="3.7" fill="#cf4f3b"/>
<line x1="893.50" x2="893.50" y1="81.1" y2="100.6" stroke="#cf4f3b" stroke-width="1"/>
<rect x="892.00" y="84.0" width="3" height="11.6" fill="#cf4f3b"/>
<line x1="897.50" x2="897.50" y1="88.1" y2="99.3" stroke="#28806e" stroke-width="1"/>
<rect x="896.00" y="89.2" width="3" height="6.4" fill="#28806e"/>
<line x1="902.50" x2="902.50" y1="79.4" y2="90.8" stroke="#28806e" stroke-width="1"/>
<rect x="901.00" y="82.0" width="3" height="8.1" fill="#28806e"/>
<line x1="906.50" x2="906.50" y1="69.4" y2="83.9" stroke="#28806e" stroke-width="1"/>
<rect x="905.00" y="71.1" width="3" height="11.6" fill="#28806e"/>
<line x1="910.50" x2="910.50" y1="69.4" y2="81.4" stroke="#cf4f3b" stroke-width="1"/>
<rect x="909.00" y="70.6" width="3" height="7.6" fill="#cf4f3b"/>
<line x1="914.53" x2="914.53" y1="75.8" y2="78.6" stroke="#28806e" stroke-width="1" opacity="0.5"/>
<path d="M0.0 1.7C1.3 2.2 2.2 3.1 8.0 5.0C13.8 6.9 26.7 10.4 35.0 13.0C43.3 15.6 51.0 17.8 57.7 20.3C64.4 22.8 70.2 25.5 75.2 27.9C80.2 30.3 82.5 32.5 87.5 34.9C92.5 37.3 99.2 39.7 105.0 42.2C110.8 44.7 116.7 47.4 122.5 49.9C128.3 52.4 134.2 54.9 140.0 57.1C145.8 59.3 151.7 61.4 157.5 63.2C163.3 65.0 169.6 66.7 175.0 68.1C180.4 69.5 184.6 70.5 190.0 71.6C195.4 72.7 201.7 73.6 207.5 74.6C213.3 75.6 219.2 76.3 225.0 77.7C230.8 79.1 236.7 81.4 242.5 83.0C248.3 84.6 254.2 86.1 260.0 87.4C265.8 88.7 271.7 89.7 277.5 90.9C283.3 92.2 289.2 93.2 295.0 94.9C300.8 96.6 306.7 98.7 312.5 100.8C318.3 102.9 324.2 105.5 330.0 107.5C335.8 109.5 341.7 111.0 347.5 112.7C353.3 114.4 359.2 115.9 365.0 117.6C370.8 119.2 377.4 120.5 382.0 122.6C386.6 124.7 388.7 127.8 392.5 130.1C396.3 132.4 400.9 134.5 404.7 136.2C408.5 137.9 411.4 138.2 415.2 140.1C419.0 142.0 423.7 145.3 427.5 147.6C431.3 149.9 433.6 151.4 438.0 153.7C442.4 156.0 450.4 159.8 453.7 161.6C456.9 163.4 453.9 162.8 457.5 164.5C461.1 166.2 469.2 169.8 475.0 171.5C480.8 173.2 486.7 173.8 492.5 175.0C498.3 176.2 505.1 177.9 510.0 178.8C515.0 179.7 517.5 180.4 522.2 180.2C526.9 180.0 531.9 178.6 538.0 177.6C544.1 176.6 553.9 175.2 559.0 174.1C564.1 173.0 565.0 172.1 568.5 170.9C572.0 169.7 576.3 168.6 580.0 167.1C583.7 165.6 587.2 164.1 590.5 161.9C593.8 159.7 597.5 155.9 600.0 154.0C602.5 152.1 602.3 152.0 605.2 150.2C608.1 148.4 613.1 145.8 617.5 143.2C621.9 140.6 626.8 137.3 631.5 134.5C636.2 131.7 640.8 128.7 645.5 126.1C650.2 123.5 655.9 120.9 660.0 119.1C664.1 117.2 666.5 116.4 670.4 115.0C674.3 113.6 679.0 112.1 683.5 110.6C688.0 109.1 692.8 107.8 697.5 105.9C702.2 104.0 707.8 100.9 711.5 99.2C715.2 97.5 716.2 97.0 720.0 95.5C723.8 94.0 729.3 92.1 734.0 90.5C738.7 88.9 743.3 87.5 748.0 86.0C752.7 84.5 757.9 82.5 762.0 81.6C766.1 80.7 767.8 80.6 772.5 80.4C777.2 80.2 784.2 80.1 790.0 80.2C795.8 80.3 801.7 80.6 807.5 81.1C813.3 81.6 819.2 82.7 825.0 83.4C830.8 84.2 836.7 85.1 842.5 85.6C848.3 86.1 854.2 86.2 860.0 86.5C865.8 86.8 871.7 87.4 877.5 87.4C883.3 87.4 888.9 86.6 895.0 86.3C901.1 86.0 911.0 85.7 914.2 85.6" fill="none" stroke="#ee6d12" stroke-width="1.15" stroke-linejoin="round"/>
<path d="M0.0 40.6C0.9 41.6 3.5 44.8 5.2 46.4C7.0 48.0 7.0 49.1 10.5 50.0C14.0 50.9 20.5 51.5 26.0 51.6C31.5 51.7 38.4 51.1 43.7 50.7C49.0 50.3 53.5 50.0 57.7 49.0C61.9 48.0 66.2 45.9 69.0 45.0C71.8 44.1 72.5 43.7 74.4 43.6C76.3 43.5 77.7 43.9 80.5 44.6C83.3 45.3 86.9 46.5 91.0 48.0C95.1 49.5 99.8 51.2 105.0 53.4C110.2 55.6 117.0 58.4 122.5 61.2C128.0 64.0 133.6 67.2 138.0 70.0C142.4 72.8 144.9 75.1 148.7 77.7C152.5 80.3 157.5 84.0 161.0 85.6C164.5 87.2 166.8 86.2 169.7 87.4C172.6 88.6 175.1 91.0 178.5 92.6C181.9 94.2 186.6 95.6 190.0 97.0C193.4 98.4 195.8 99.8 198.7 100.8C201.6 101.8 204.6 102.5 207.5 102.8C210.4 103.1 213.3 102.8 216.2 102.6C219.1 102.4 221.8 102.1 225.0 101.4C228.2 100.8 232.0 99.4 235.5 98.7C239.0 98.0 243.1 98.1 246.0 97.5C248.9 96.9 250.7 96.1 253.0 95.2C255.3 94.3 257.7 93.0 260.0 92.1C262.3 91.2 264.1 90.3 267.0 90.0C269.9 89.7 274.0 89.6 277.5 90.0C281.0 90.4 284.8 91.6 288.0 92.6C291.2 93.6 293.8 94.6 296.7 96.1C299.6 97.6 302.3 99.2 305.5 101.4C308.7 103.6 312.5 106.6 316.0 109.2C319.5 111.8 323.1 114.5 326.5 117.1C329.9 119.7 333.7 122.6 336.5 124.9C339.3 127.2 340.9 128.8 343.5 131.0C346.1 133.2 349.0 135.7 352.2 138.0C355.4 140.3 359.5 143.1 362.7 145.0C365.9 146.9 368.6 147.7 371.5 149.4C374.4 151.2 377.6 153.0 380.2 155.5C382.8 158.0 384.9 161.6 387.2 164.5C389.4 167.4 391.1 170.3 393.7 172.9C396.2 175.5 399.9 178.3 402.5 179.9C405.1 181.5 406.9 181.8 409.5 182.5C412.1 183.2 415.3 182.7 418.2 183.9C421.1 185.1 424.1 187.4 427.0 189.5C429.9 191.6 432.8 194.8 435.7 196.5C438.6 198.2 441.3 199.1 444.5 200.0C447.7 200.9 451.4 201.3 455.0 201.7C458.6 202.1 463.3 203.0 466.2 202.6C469.1 202.2 470.3 201.0 472.5 199.1C474.7 197.2 477.3 193.4 479.5 191.2C481.7 189.0 482.8 187.4 485.5 185.8C488.2 184.2 492.8 182.1 496.0 181.6C499.2 181.1 501.8 183.3 504.7 182.9C507.6 182.5 510.7 180.8 513.5 179.4C516.3 178.0 519.2 176.2 521.5 174.6C523.8 173.0 524.3 172.3 527.5 169.7C530.7 167.1 536.0 162.7 540.5 159.0C545.0 155.3 549.2 151.4 554.5 147.6C559.8 143.8 567.3 139.3 572.0 136.2C576.7 133.1 579.9 131.2 582.5 129.2C585.1 127.2 586.0 126.0 587.7 124.0C589.5 122.0 590.8 119.3 593.0 117.0C595.2 114.7 598.1 112.7 600.9 110.0C603.7 107.3 606.1 103.9 610.0 100.6C613.9 97.3 619.9 92.5 624.0 90.1C628.1 87.7 631.0 87.3 634.5 86.1C638.0 84.8 641.5 83.0 645.0 82.6C648.5 82.2 651.4 83.5 655.5 83.5C659.6 83.5 665.4 82.0 669.5 82.3C673.6 82.6 675.9 84.1 680.0 85.2C684.1 86.3 688.8 87.5 694.0 88.7C699.2 89.9 706.5 91.9 711.5 92.2C716.5 92.5 720.5 91.3 723.7 90.8C726.9 90.3 727.6 90.2 730.5 89.1C733.4 88.0 736.9 86.2 741.0 84.2C745.1 82.2 750.9 79.1 755.0 77.2C759.1 75.3 762.6 74.0 765.5 72.9C768.4 71.8 770.2 71.0 772.5 70.6C774.8 70.1 776.6 70.0 779.5 70.2C782.4 70.4 786.5 71.2 790.0 71.6C793.5 72.0 797.6 72.3 800.5 72.5C803.4 72.7 805.2 72.2 807.5 72.9C809.8 73.6 811.6 75.5 814.5 76.9C817.4 78.4 821.8 80.3 825.0 81.6C828.2 82.9 830.8 83.3 833.7 84.6C836.6 85.9 839.6 88.0 842.5 89.5C845.4 91.0 848.3 92.1 851.2 93.3C854.1 94.5 857.1 95.9 860.0 96.7C862.9 97.5 865.8 97.7 868.7 98.2C871.6 98.8 874.3 99.6 877.5 100.0C880.7 100.4 884.5 100.7 888.0 100.6C891.5 100.5 895.6 100.1 898.5 99.6C901.4 99.1 902.9 98.2 905.5 97.6C908.1 97.0 912.8 96.3 914.2 96.1" fill="none" stroke="#1c36f0" stroke-width="1.15" stroke-linejoin="round"/>
<line x1="0" x2="1076" y1="77.5" y2="77.5" stroke="#2c4a7c" stroke-width="1"/>
<line x1="377.3" y1="-1" x2="1013.8" y2="87.6" stroke="#111" stroke-width="1.35"/>
</g>
<rect x="8" y="5" width="72" height="21.7" fill="#000" fill-opacity="0.6"/>
<rect x="5" y="5" width="3" height="21.7" fill="#2e8b78"/>
<rect x="8" y="32" width="81" height="21.7" fill="#000" fill-opacity="0.6"/>
<rect x="5" y="32" width="3" height="21.7" fill="#0a14ff"/>
<rect x="8" y="59" width="81" height="21.8" fill="#000" fill-opacity="0.6"/>
<rect x="5" y="59" width="3" height="21.8" fill="#f26a0a"/>
<g clip-path="url(#cr)">
<rect x="0" y="306.6" width="915" height="20.4" fill="#00ff00" fill-opacity="0.5"/>
<rect x="0" y="353" width="915" height="21" fill="#ff0000" fill-opacity="0.5"/>
<line x1="0.65" x2="0.65" y1="306.6" y2="326.4" stroke="#000" stroke-width="1.3"/>
<line x1="914.7" x2="914.7" y1="306.6" y2="326.4" stroke="#000" stroke-width="1.1"/>
<line x1="0.65" x2="0.65" y1="353.4" y2="374" stroke="#000" stroke-width="1.3"/>
<line x1="914.7" x2="914.7" y1="353.4" y2="374" stroke="#000" stroke-width="1.1"/>
<line x1="0" x2="915" y1="326.5" y2="326.5" stroke="#000" stroke-width="1" stroke-dasharray="3,1" stroke-opacity="0.75"/>
<line x1="0" x2="915" y1="353.5" y2="353.5" stroke="#000" stroke-width="1" stroke-dasharray="3,1" stroke-opacity="0.75"/>
<polyline points="0.0,344.0 3.8,347.5 8.3,342.9 12.5,341.9 16.7,339.2 20.2,341.3 25.0,339.8 37.5,336.7 41.7,339.2 45.9,343.4 50.0,339.8 53.8,342.5 62.1,339.2 68.8,341.9 77.1,350.2 82.4,354.0 87.6,347.1 91.7,341.9 95.9,345.0 108.4,343.8 118.8,343.8 128.2,348.1 132.4,345.6 136.6,347.7 140.7,347.1 146.0,351.7 149.1,351.7 154.3,347.1 157.4,347.1 162.6,350.9 168.9,350.9 174.1,352.7 177.2,351.7 183.5,345.4 187.7,344.0 191.8,344.6 198.1,343.4 202.3,340.9 206.4,341.5 211.6,335.6 218.9,335.0 223.1,332.5 227.3,336.3 231.4,337.7 235.6,337.3 240.0,341.2 248.3,341.3 252.5,334.6 256.7,335.6 265.0,342.5 269.2,340.9 273.4,343.4 280.7,350.2 285.5,352.7 290.0,348.1 293.8,349.2 298.0,347.5 302.6,350.9 308.8,352.3 319.2,355.9 323.4,356.5 331.7,355.4 339.0,355.4 347.4,343.6 352.2,350.2 356.1,347.7 365.1,351.3 370.3,351.3 376.7,355.5 380.7,355.5 384.6,361.2 388.6,363.4 392.5,361.2 396.0,355.5 401.4,346.7 405.8,344.6 413.7,337.1 423.5,344.6 430.2,346.1 434.3,347.7 442.3,339.2 446.4,341.9 451.0,338.3 454.8,338.8 460.0,341.3 464.1,340.9 467.3,339.4 471.4,339.8 480.0,332.5 484.2,334.2 487.9,333.6 492.9,337.3 496.7,336.7 500.9,339.8 505.0,344.6 509.2,340.4 513.4,336.7 517.5,336.3 521.3,340.4 525.9,334.2 529.6,332.1 533.8,334.2 541.5,331.5 545.7,332.9 550.5,332.5 554.6,334.6 558.8,332.9 563.4,330.0 567.6,329.0 571.3,330.0 575.9,334.6 579.7,334.2 587.4,328.8 591.6,328.3 595.7,331.5 599.9,332.9 605.1,331.5 616.6,330.0 623.9,327.3 629.1,336.3 636.4,337.1 640.6,336.3 647.8,340.4 657.2,340.4 665.6,341.5 673.9,338.3 678.1,339.8 682.7,343.6 686.4,339.8 691.0,345.0 694.8,339.4 700.0,335.6 707.3,337.3 714.6,334.2 720.0,335.6 726.3,332.1 732.5,330.0 737.7,329.8 745.0,333.1 749.2,330.8 753.4,330.4 761.7,334.6 765.9,335.6 769.6,333.6 778.4,347.1 782.6,348.1 789.8,346.1 794.6,343.6 798.8,346.1 803.4,341.5 806.5,340.2 811.7,345.6 815.5,346.7 819.7,344.6 823.8,344.6 827.8,341.5 832.6,343.6 836.3,344.6 839.9,347.1 844.7,341.9 848.9,342.9 852.4,343.6 856.6,346.1 861.4,341.5 864.9,342.5 869.5,348.8 874.3,347.1 878.5,343.6 885.8,335.0 889.9,336.3 894.1,339.8 899.3,337.7 906.6,332.9 910.2,335.2 914.3,335.2" fill="none" stroke="#2a4cf0" stroke-width="1.05" stroke-linejoin="round"/>
</g>
<rect x="8" y="310" width="105" height="21.7" fill="#000" fill-opacity="0.6"/>
<rect x="5" y="310" width="3" height="21.7" fill="#00f000"/>
<rect x="527" y="298" width="20" height="7.3" fill="#fff"/>
<line x1="527" x2="547" y1="299.5" y2="299.5" stroke="#6b6462" stroke-width="1"/>
<line x1="527" x2="547" y1="301.5" y2="301.5" stroke="#6b6462" stroke-width="1"/>
<line x1="527" x2="547" y1="303.5" y2="303.5" stroke="#6b6462" stroke-width="1"/>
<line x1="1076" x2="1081" y1="9.6" y2="9.6" stroke="#aaa" stroke-width="1.6"/>
<line x1="1076" x2="1081" y1="32.78" y2="32.78" stroke="#aaa" stroke-width="1.6"/>
<line x1="1076" x2="1081" y1="55.96" y2="55.96" stroke="#aaa" stroke-width="1.6"/>
<line x1="1076" x2="1081" y1="102.32" y2="102.32" stroke="#aaa" stroke-width="1.6"/>
<line x1="1076" x2="1081" y1="125.5" y2="125.5" stroke="#aaa" stroke-width="1.6"/>
<line x1="1076" x2="1081" y1="148.68" y2="148.68" stroke="#aaa" stroke-width="1.6"/>
<line x1="1076" x2="1081" y1="171.86" y2="171.86" stroke="#aaa" stroke-width="1.6"/>
<line x1="1076" x2="1081" y1="195.04" y2="195.04" stroke="#aaa" stroke-width="1.6"/>
<line x1="1076" x2="1081" y1="218.22" y2="218.22" stroke="#aaa" stroke-width="1.6"/>
<line x1="1076" x2="1081" y1="241.4" y2="241.4" stroke="#aaa" stroke-width="1.6"/>
<line x1="1076" x2="1081" y1="264.58" y2="264.58" stroke="#aaa" stroke-width="1.6"/>
<line x1="1076" x2="1081" y1="287.76" y2="287.76" stroke="#aaa" stroke-width="1.6"/>
<line x1="1076" x2="1081" y1="339.9" y2="339.9" stroke="#aaa" stroke-width="1.6"/>
<line x1="1076" x2="1081" y1="372.9" y2="372.9" stroke="#aaa" stroke-width="1.6"/>
<path d="M1075.2 77.3 L1078.5 73.6 L1078.5 70.4 Q1078.5 68.4 1080.5 68.4 L1130.4 68.4 Q1132.4 68.4 1132.4 70.4 L1132.4 83.2 Q1132.4 85.2 1130.4 85.2 L1080.5 85.2 Q1078.5 85.2 1078.5 83.2 L1078.5 81 Z" fill="#2f4870"/>
<line x1="0.5" x2="0.5" y1="375" y2="377" stroke="#666" stroke-width="1"/>
<line x1="45.5" x2="45.5" y1="375" y2="377" stroke="#666" stroke-width="1"/>
<line x1="74.5" x2="74.5" y1="375" y2="377" stroke="#666" stroke-width="1"/>
<line x1="103.5" x2="103.5" y1="375" y2="377" stroke="#666" stroke-width="1"/>
<line x1="136.5" x2="136.5" y1="375" y2="377" stroke="#666" stroke-width="1"/>
<line x1="165.5" x2="165.5" y1="375" y2="377" stroke="#666" stroke-width="1"/>
<line x1="194.5" x2="194.5" y1="375" y2="377" stroke="#666" stroke-width="1"/>
<line x1="223.5" x2="223.5" y1="375" y2="377" stroke="#666" stroke-width="1"/>
<line x1="256.5" x2="256.5" y1="375" y2="377" stroke="#666" stroke-width="1"/>
<line x1="289.5" x2="289.5" y1="375" y2="377" stroke="#666" stroke-width="1"/>
<line x1="318.5" x2="318.5" y1="375" y2="377" stroke="#666" stroke-width="1"/>
<line x1="351.5" x2="351.5" y1="375" y2="377" stroke="#666" stroke-width="1"/>
<line x1="384.5" x2="384.5" y1="375" y2="377" stroke="#666" stroke-width="1"/>
<line x1="409.5" x2="409.5" y1="375" y2="377" stroke="#666" stroke-width="1"/>
<line x1="442.5" x2="442.5" y1="375" y2="377" stroke="#666" stroke-width="1"/>
<line x1="475.5" x2="475.5" y1="375" y2="377" stroke="#666" stroke-width="1"/>
<line x1="496.5" x2="496.5" y1="375" y2="377" stroke="#666" stroke-width="1"/>
<line x1="529.5" x2="529.5" y1="375" y2="377" stroke="#666" stroke-width="1"/>
<line x1="562.5" x2="562.5" y1="375" y2="377" stroke="#666" stroke-width="1"/>
<line x1="587.5" x2="587.5" y1="375" y2="377" stroke="#666" stroke-width="1"/>
<line x1="620.5" x2="620.5" y1="375" y2="377" stroke="#666" stroke-width="1"/>
<line x1="653.5" x2="653.5" y1="375" y2="377" stroke="#666" stroke-width="1"/>
<line x1="678.5" x2="678.5" y1="375" y2="377" stroke="#666" stroke-width="1"/>
<line x1="707.5" x2="707.5" y1="375" y2="377" stroke="#666" stroke-width="1"/>
<line x1="736.5" x2="736.5" y1="375" y2="377" stroke="#666" stroke-width="1"/>
<line x1="769.5" x2="769.5" y1="375" y2="377" stroke="#666" stroke-width="1"/>
<line x1="802.5" x2="802.5" y1="375" y2="377" stroke="#666" stroke-width="1"/>
<line x1="852.5" x2="852.5" y1="375" y2="377" stroke="#666" stroke-width="1"/>
<line x1="881.5" x2="881.5" y1="375" y2="377" stroke="#666" stroke-width="1"/>
<line x1="910.5" x2="910.5" y1="375" y2="377" stroke="#666" stroke-width="1"/>
<line x1="947.5" x2="947.5" y1="375" y2="377" stroke="#666" stroke-width="1"/>
<line x1="980.5" x2="980.5" y1="375" y2="377" stroke="#666" stroke-width="1"/>
<line x1="1030.5" x2="1030.5" y1="375" y2="377" stroke="#666" stroke-width="1"/>
<line x1="1063.5" x2="1063.5" y1="375" y2="377" stroke="#666" stroke-width="1"/>
</svg>
<svg width="1151" height="400" viewBox="0 0 1151 400" style="position:absolute;left:0;top:0;will-change:transform;">
<text class="lg" x="16.3" y="21.0" textLength="44.8" lengthAdjust="spacingAndGlyphs">GBP/USD</text>
<text class="lg" x="16.3" y="48.0" textLength="53.5" lengthAdjust="spacingAndGlyphs">SMA (21,0)</text>
<text class="lg" x="16.3" y="75.0" textLength="53.5" lengthAdjust="spacingAndGlyphs">SMA (50,0)</text>
<text class="lg" x="16.3" y="326" textLength="77.7" lengthAdjust="spacingAndGlyphs">RSI (14,70,30,1)</text>
<text class="ax" x="1083" y="13.8" textLength="32.5" lengthAdjust="spacingAndGlyphs">1.2800</text>
<text class="ax" x="1083" y="37.0" textLength="32.5" lengthAdjust="spacingAndGlyphs">1.2600</text>
<text class="ax" x="1083" y="60.2" textLength="32.5" lengthAdjust="spacingAndGlyphs">1.2400</text>
<text class="ax" x="1083" y="106.5" textLength="32.5" lengthAdjust="spacingAndGlyphs">1.2000</text>
<text class="ax" x="1083" y="129.7" textLength="32.5" lengthAdjust="spacingAndGlyphs">1.1800</text>
<text class="ax" x="1083" y="152.9" textLength="32.5" lengthAdjust="spacingAndGlyphs">1.1600</text>
<text class="ax" x="1083" y="176.1" textLength="32.5" lengthAdjust="spacingAndGlyphs">1.1400</text>
<text class="ax" x="1083" y="199.2" textLength="32.5" lengthAdjust="spacingAndGlyphs">1.1200</text>
<text class="ax" x="1083" y="222.4" textLength="32.5" lengthAdjust="spacingAndGlyphs">1.1000</text>
<text class="ax" x="1083" y="245.6" textLength="32.5" lengthAdjust="spacingAndGlyphs">1.0800</text>
<text class="ax" x="1083" y="268.8" textLength="32.5" lengthAdjust="spacingAndGlyphs">1.0600</text>
<text class="ax" x="1083" y="292.0" textLength="32.5" lengthAdjust="spacingAndGlyphs">1.0400</text>
<text class="ax" x="1083" y="343.7" textLength="38.3" lengthAdjust="spacingAndGlyphs">50.0000</text>
<text class="ax" x="1083" y="376.7" textLength="32.5" lengthAdjust="spacingAndGlyphs">0.0000</text>
<text x="1083.8" y="81" font-size="11" font-weight="bold" fill="#fff" textLength="44.6" lengthAdjust="spacingAndGlyphs">1.222030</text>
<text class="ax" x="-0.8" y="391.5">May</text>
<text class="ax" x="45.0" y="391.5" text-anchor="middle">Jun</text>
<text class="ax" x="74.0" y="391.5" text-anchor="middle">10</text>
<text class="ax" x="103.0" y="391.5" text-anchor="middle">21</text>
<text class="ax" x="136.0" y="391.5" text-anchor="middle">Jul</text>
<text class="ax" x="165.0" y="391.5" text-anchor="middle">12</text>
<text class="ax" x="194.0" y="391.5" text-anchor="middle">21</text>
<text class="ax" x="223.0" y="391.5" text-anchor="middle">Aug</text>
<text class="ax" x="256.0" y="391.5" text-anchor="middle">11</text>
<text class="ax" x="289.0" y="391.5" text-anchor="middle">23</text>
<text class="ax" x="318.0" y="391.5" text-anchor="middle">Sep</text>
<text class="ax" x="351.0" y="391.5" text-anchor="middle">13</text>
<text class="ax" x="384.0" y="391.5" text-anchor="middle">23</text>
<text class="ax" x="409.0" y="391.5" text-anchor="middle">Oct</text>
<text class="ax" x="442.0" y="391.5" text-anchor="middle">13</text>
<text class="ax" x="475.0" y="391.5" text-anchor="middle">25</text>
<text class="ax" x="496.0" y="391.5" text-anchor="middle">Nov</text>
<text class="ax" x="529.0" y="391.5" text-anchor="middle">11</text>
<text class="ax" x="562.0" y="391.5" text-anchor="middle">23</text>
<text class="ax" x="587.0" y="391.5" text-anchor="middle">Dec</text>
<text class="ax" x="620.0" y="391.5" text-anchor="middle">13</text>
<text class="ax" x="653.0" y="391.5" text-anchor="middle">23</text>
<text class="ax" x="678.0" y="391.5" text-anchor="middle">Jan</text>
<text class="ax" x="707.0" y="391.5" text-anchor="middle">11</text>
<text class="ax" x="736.0" y="391.5" text-anchor="middle">20</text>
<text class="ax" x="769.0" y="391.5" text-anchor="middle">Feb</text>
<text class="ax" x="802.0" y="391.5" text-anchor="middle">13</text>
<text class="ax" x="852.0" y="391.5" text-anchor="middle">Mar</text>
<text class="ax" x="881.0" y="391.5" text-anchor="middle">10</text>
<text class="ax" x="910.0" y="391.5" text-anchor="middle">21</text>
<text class="ax" x="947.0" y="391.5" text-anchor="middle">Apr</text>
<text class="ax" x="980.0" y="391.5" text-anchor="middle">13</text>
<text class="ax" x="1030.0" y="391.5" text-anchor="middle">May</text>
<text class="ax" x="1063.0" y="391.5" text-anchor="middle">11</text>
</svg></body></html>
